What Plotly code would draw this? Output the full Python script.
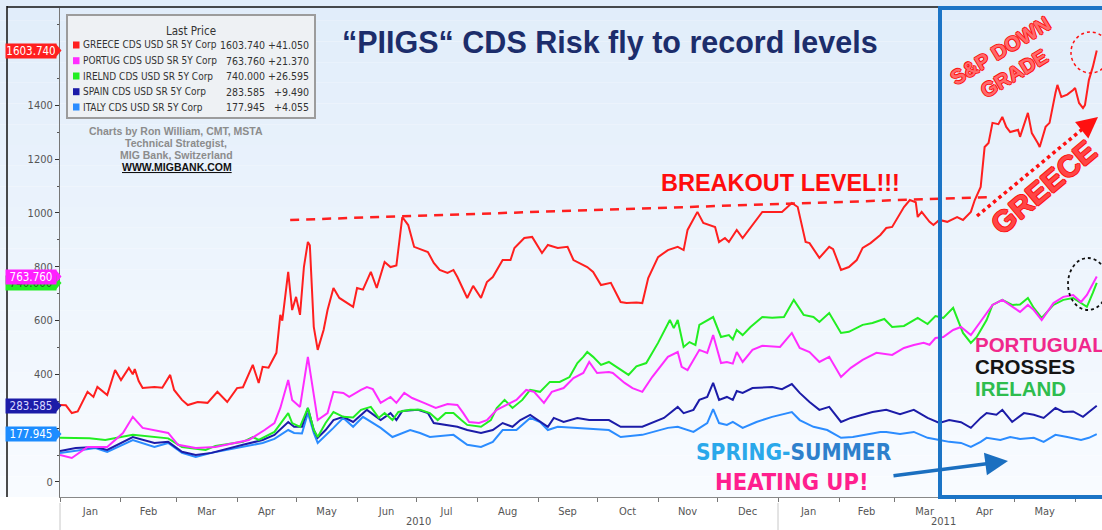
import pandas as pd
import plotly.graph_objects as go

START = "2010-01-01"

# ---- data: days since 2010-01-01 and CDS level (bp) ----
greece_days = [0, 3, 6, 9, 14, 17, 19, 24, 28, 31,
               35, 37, 38, 40, 42, 48, 52, 56, 58, 62,
               65, 70, 75, 80, 85, 90, 93, 96, 98, 101,
               103, 106, 110, 112, 113, 116, 118, 120, 122, 124,
               126, 127, 129, 131, 134, 136, 139, 142, 149, 151,
               154, 158, 161, 165, 168, 171, 174, 177, 180, 187,
               190, 193, 197, 200, 202, 207, 210, 214, 217, 220,
               225, 229, 231, 236, 240, 245, 248, 253, 258, 261,
               268, 271, 275, 280, 285, 288, 293, 296, 299, 304,
               309, 314, 317, 319, 324, 327, 333, 335, 338, 340,
               344, 347, 353, 357, 362, 367, 372, 375, 379, 381,
               386, 391, 393, 397, 401, 405, 408, 412, 417, 420,
               423, 429, 432, 435, 436, 438, 442, 444, 447, 451,
               456, 459, 463, 465, 468, 470, 472, 474, 477, 479,
               481, 483, 487, 488, 492, 494, 497, 498, 501, 503,
               506, 507, 509, 512, 515, 516, 518, 520, 521, 523,
               525, 527]
greece_cds = [286, 285, 256, 262, 335, 316, 353, 323, 416, 379,
              424, 400, 420, 375, 349, 353, 350, 398, 342, 305,
              286, 297, 294, 335, 297, 349, 352, 405, 435, 368,
              428, 425, 480, 621, 600, 781, 639, 688, 621, 800,
              892, 880, 576, 491, 565, 639, 721, 684, 651, 721,
              715, 781, 721, 818, 799, 805, 985, 955, 874, 855,
              814, 788, 777, 788, 762, 684, 729, 684, 743, 762,
              825, 825, 870, 907, 911, 851, 881, 870, 874, 825,
              799, 781, 732, 740, 669, 665, 667, 665, 758, 836,
              862, 874, 862, 937, 1004, 963, 948, 892, 907, 892,
              937, 907, 963, 1004, 1004, 1004, 1037, 1022, 892, 888,
              833, 874, 865, 788, 799, 825, 870, 888, 918, 944,
              948, 1022, 1048, 1040, 985, 1004, 967, 955, 974, 967,
              985, 974, 1004, 1048, 1097, 1245, 1260, 1335, 1330, 1357,
              1320, 1301, 1309, 1283, 1372, 1297, 1260, 1245, 1320, 1335,
              1446, 1476, 1431, 1440, 1457, 1465, 1409, 1390, 1401, 1494,
              1543, 1603.74]

portugal_days = [0, 6, 14, 24, 32, 37, 42, 47, 55, 60,
                 69, 79, 96, 104, 109, 112, 116, 118, 122, 126,
                 129, 131, 136, 139, 144, 147, 153, 156, 159, 163,
                 168, 171, 175, 179, 185, 191, 197, 202, 205, 208,
                 213, 217, 222, 227, 232, 237, 241, 246, 250, 256,
                 261, 266, 269, 273, 279, 281, 287, 291, 296, 301,
                 309, 314, 316, 319, 325, 329, 332, 336, 339, 342,
                 344, 347, 352, 357, 366, 372, 376, 381, 386, 391,
                 397, 402, 408, 415, 423, 429, 434, 439, 442, 445,
                 449, 454, 458, 463, 466, 471, 474, 479, 484, 488,
                 492, 495, 499, 505, 510, 515, 519, 522, 527]
portugal_cds = [100, 89, 130, 130, 182, 242, 201, 193, 182, 138,
                126, 130, 156, 193, 219, 275, 379, 305, 279, 465,
                331, 230, 256, 335, 331, 316, 342, 353, 345, 294,
                316, 294, 331, 312, 294, 275, 290, 286, 256, 223,
                219, 230, 268, 286, 305, 342, 335, 294, 335, 349,
                386, 405, 446, 405, 409, 405, 368, 349, 335, 390,
                465, 483, 428, 416, 491, 480, 546, 442, 446, 440,
                483, 446, 491, 506, 502, 554, 498, 483, 446, 465,
                390, 424, 454, 480, 472, 498, 509, 517, 510, 535,
                539, 565, 576, 546, 576, 628, 658, 677, 651, 632,
                658, 639, 602, 665, 688, 695, 669, 695, 763.76]

ireland_days = [0, 15, 23, 37, 55, 62, 74, 79, 93, 98,
                101, 109, 116, 118, 122, 126, 129, 131, 135, 139,
                144, 149, 153, 158, 162, 165, 169, 172, 178, 183,
                188, 192, 196, 200, 204, 207, 214, 219, 222, 226,
                230, 235, 239, 244, 249, 254, 259, 263, 266, 268,
                271, 275, 279, 283, 289, 293, 298, 304, 308, 310,
                312, 314, 317, 320, 323, 325, 332, 336, 340, 342,
                344, 347, 351, 357, 362, 368, 373, 378, 383, 386,
                391, 397, 401, 408, 413, 419, 423, 429, 436, 441,
                445, 449, 454, 457, 459, 463, 466, 471, 474, 479,
                484, 488, 492, 495, 499, 505, 510, 515, 519, 522,
                525, 527]
ireland_cds = [164, 162, 156, 175, 162, 130, 119, 134, 149, 167,
               156, 186, 256, 219, 205, 275, 193, 167, 219, 260,
               242, 240, 268, 279, 238, 256, 230, 260, 268, 268,
               256, 230, 256, 256, 230, 212, 205, 230, 275, 305,
               275, 305, 342, 335, 372, 372, 390, 442, 465, 483,
               465, 435, 446, 428, 398, 430, 442, 517, 576, 602,
               572, 602, 502, 520, 509, 584, 613, 539, 546, 530,
               565, 546, 576, 613, 610, 613, 677, 621, 613, 595,
               628, 554, 558, 584, 591, 606, 576, 580, 610, 587,
               617, 610, 647, 591, 554, 517, 539, 602, 658, 677,
               658, 660, 684, 647, 610, 658, 677, 684, 665, 651,
               703, 740.0]

spain_days = [0, 8, 18, 24, 37, 48, 55, 62, 69, 77,
              93, 103, 109, 116, 119, 123, 126, 129, 131, 135,
              139, 144, 149, 156, 163, 168, 171, 174, 182, 187,
              190, 197, 202, 207, 214, 220, 225, 230, 234, 239,
              243, 248, 251, 256, 263, 269, 279, 285, 296, 307,
              314, 317, 322, 325, 329, 332, 335, 339, 342, 344,
              347, 352, 362, 367, 372, 376, 381, 386, 391, 397,
              402, 408, 413, 420, 427, 434, 441, 447, 452, 458,
              463, 468, 471, 476, 479, 484, 490, 495, 500, 506,
              510, 515, 520, 523, 527]
spain_cds = [115, 126, 130, 119, 167, 145, 149, 112, 100, 108,
             138, 156, 175, 223, 205, 205, 275, 193, 164, 193,
             230, 242, 223, 268, 230, 256, 230, 264, 268, 256,
             219, 212, 205, 193, 182, 193, 219, 205, 230, 249,
             230, 205, 238, 223, 238, 230, 230, 205, 205, 238,
             279, 256, 268, 305, 316, 368, 305, 316, 305, 338,
             331, 349, 353, 345, 364, 331, 297, 268, 279, 223,
             238, 249, 260, 268, 252, 268, 238, 219, 230, 222,
             201, 238, 256, 250, 268, 223, 256, 250, 238, 275,
             260, 262, 242, 260, 283.585]

italy_days = [0, 8, 18, 24, 37, 48, 55, 62, 69, 77,
              93, 103, 109, 116, 119, 123, 126, 129, 131, 135,
              139, 144, 149, 154, 163, 169, 178, 183, 188, 200,
              207, 214, 220, 225, 232, 239, 244, 248, 253, 261,
              279, 285, 296, 309, 314, 322, 329, 332, 335, 339,
              342, 347, 354, 362, 372, 376, 383, 390, 397, 403,
              417, 420, 427, 434, 441, 447, 452, 458, 463, 468,
              471, 478, 483, 488, 495, 500, 506, 512, 519, 523,
              527]
italy_cds = [108, 115, 126, 112, 156, 130, 145, 108, 93, 108,
             130, 145, 160, 193, 182, 180, 256, 182, 145, 175,
             201, 238, 205, 242, 201, 167, 193, 182, 167, 175,
             138, 130, 149, 193, 193, 238, 223, 193, 205, 201,
             193, 167, 175, 201, 205, 186, 219, 271, 219, 212,
             223, 201, 223, 242, 260, 230, 205, 193, 164, 167,
             186, 186, 178, 186, 164, 156, 149, 145, 130, 149,
             164, 156, 167, 160, 164, 149, 175, 167, 156, 164,
             177.945]

series_names = ["GREECE CDS USD SR 5Y Corp", "PORTUG CDS USD SR 5Y Corp",
                "IRELND CDS USD SR 5Y Corp", "SPAIN CDS USD SR 5Y Corp",
                "ITALY CDS USD SR 5Y Corp"]
last_price = [1603.740, 763.760, 740.000, 283.585, 177.945]
last_label = ["1603.740", "763.760", "740.000", "283.585", "177.945"]
change_label = ["+41.050", "+21.370", "+26.595", "+9.490", "+4.055"]
series_colors = ["#ff1f1f", "#ff2cff", "#22ee22", "#1c1ca8", "#2b8cff"]
year_labels = ["2010", "2011"]
y_ticks = [0, 200, 400, 600, 800, 1000, 1200, 1400, 1600]
y_tick_text = ["0", "", "400", "600", "800", "1000", "1200", "1400", ""]

# breakout level line end points (date, level)
breakout_dates = ["2010-04-28", "2011-04-19"]
breakout_levels = [974, 1059]

# ---- geometry helpers (layout only) ----
W, H = 1102, 530
L, T, B = 60, 8, 33
PW, PH = W - L, H - T - B


def px(x):
    return (x - L) / PW


def py(y):
    return (H - B - y) / PH


def to_dates(days):
    return pd.Timestamp(START) + pd.to_timedelta(days, unit="D")


COND = "DejaVu Sans Condensed, Liberation Sans Narrow, Arial Narrow, sans-serif"
ARIAL = "Liberation Sans, Arial, sans-serif"

fig = go.Figure()

data = [
    (italy_days, italy_cds, 4),
    (spain_days, spain_cds, 3),
    (ireland_days, ireland_cds, 2),
    (portugal_days, portugal_cds, 1),
    (greece_days, greece_cds, 0),
]
for days, vals, idx in data:
    fig.add_trace(go.Scatter(
        x=to_dates(days), y=vals, mode="lines", name=series_names[idx],
        line=dict(color=series_colors[idx], width=2), showlegend=False,
        hoverinfo="x+y"))

shapes = []
annotations = []


def note(x, y, text, size, color="#333", family=ARIAL, xanchor="center",
         yanchor="middle", **kw):
    d = dict(xref="paper", yref="paper", x=px(x), y=py(y), text=text,
             showarrow=False, xanchor=xanchor, yanchor=yanchor,
             font=dict(family=family, size=size, color=color))
    d["font"].update(kw.pop("font_extra", {}))
    d.update(kw)
    annotations.append(d)


# background gradient bands
N = 24
top_rgb = (225, 237, 250)
bot_rgb = (248, 251, 255)
for i in range(N):
    f = i / (N - 1)
    c = tuple(int(round(top_rgb[k] + (bot_rgb[k] - top_rgb[k]) * f)) for k in range(3))
    y0 = i * (H - B) / N
    y1 = (i + 1) * (H - B) / N
    shapes.append(dict(type="rect", xref="paper", yref="paper",
                       x0=px(0), x1=px(W + 2), y0=py(y1), y1=py(y0),
                       fillcolor="rgb(%d,%d,%d)" % c, line=dict(width=0),
                       layer="below"))

# frame lines (left black edge and top)
shapes.append(dict(type="line", xref="paper", yref="paper", x0=px(7), x1=px(7),
                   y0=py(H - B), y1=py(6), line=dict(color="#111", width=1.5)))
shapes.append(dict(type="line", xref="paper", yref="paper", x0=px(7), x1=px(W),
                   y0=py(7), y1=py(7), line=dict(color="#111", width=1.5)))

# year separators under axis
for xx in [L, 778]:
    shapes.append(dict(type="line", xref="paper", yref="paper", x0=px(xx), x1=px(xx),
                       y0=py(503), y1=py(530), line=dict(color="#c8c8c8", width=1)))
note(418, 521, year_labels[0], 11, "#555", COND)
note(943, 521, year_labels[1], 11, "#555", COND)

# legend box
shapes.append(dict(type="rect", xref="paper", yref="paper", x0=px(67), x1=px(315),
                   y0=py(118), y1=py(15), fillcolor="#eef1f4",
                   line=dict(color="#9c9c9c", width=2)))
note(191, 31, "Last Price", 11.5, "#333", COND)
row_y = [45, 60.7, 76, 91.7, 107]
for i in range(5):
    shapes.append(dict(type="rect", xref="paper", yref="paper",
                       x0=px(73), x1=px(79.5), y0=py(row_y[i] + 3.5), y1=py(row_y[i] - 3.5),
                       fillcolor=series_colors[i], line=dict(width=0)))
    note(80.5, row_y[i], series_names[i], 10, "#333", COND, xanchor="left")
    note(267, row_y[i], last_label[i], 10.5, "#333", COND, xanchor="right")
    note(311, row_y[i], change_label[i], 10.5, "#333", COND, xanchor="right")

# credits
credit = ["Charts by Ron William, CMT, MSTA", "Technical Strategist,",
          "MIG Bank, Switzerland"]
for j, t in enumerate(credit):
    note(176, 131 + 12 * j, "<b>%s</b>" % t, 10.5, "#8c8c8c")
note(177, 167, "<b>WWW.MIGBANK.COM</b>", 10.5, "#111",
     font_extra=dict(lineposition="under"))

# title
note(610, 42, "<b>\u201cPIIGS\u201c CDS Risk fly to record levels</b>", 30.5, "#1c2d6b")

# breakout
fig.add_trace(go.Scatter(x=pd.to_datetime(breakout_dates), y=breakout_levels, mode="lines",
                         line=dict(color="#ff1f1f", width=2.5, dash="9px,7px"),
                         showlegend=False, hoverinfo="skip"))
note(780, 183, "<b>BREAKOUT LEVEL!!!</b>", 23.5, "#ff0d0d")

# blue highlight box
shapes.append(dict(type="rect", xref="paper", yref="paper", x0=px(940), x1=px(W + 10),
                   y0=py(497), y1=py(8), line=dict(color="#1b74c6", width=4)))

outline = "1px 0 0 #ff1010, -1px 0 0 #ff1010, 0 1px 0 #ff1010, 0 -1px 0 #ff1010"
note(1007, 62, "<b>S&P DOWN<br>GRADE</b>", 20.5, "#ff6a6a", textangle=-31,
     font_extra=dict(shadow=outline))
note(1043, 187, "<b>GREECE</b>", 30, "#ff4545", textangle=-40,
     font_extra=dict(shadow=outline))

# red dotted arrow
shapes.append(dict(type="line", xref="paper", yref="paper", x0=px(977), y0=py(216),
                   x1=px(1085), y1=py(127), line=dict(color="#ff1010", width=3.5, dash="dot")))
annotations.append(dict(xref="paper", yref="paper", x=px(1098), y=py(117),
                        ax=-16, ay=13, axref="pixel", ayref="pixel",
                        text="", showarrow=True, arrowhead=2, arrowsize=1.4,
                        arrowwidth=3, arrowcolor="#ff1010", standoff=0))

# circles
shapes.append(dict(type="circle", xref="paper", yref="paper", x0=px(1071), x1=px(1110),
                   y0=py(73), y1=py(32), line=dict(color="#ff1010", width=1.5, dash="dot")))
shapes.append(dict(type="circle", xref="paper", yref="paper", x0=px(1068), x1=px(1108),
                   y0=py(310), y1=py(258), line=dict(color="#111", width=1.8, dash="dot")))

# crossing text
for t, c, yy in [("PORTUGUAL", "#f0288c", 344), ("CROSSES", "#151515", 366),
                 ("IRELAND", "#2ebd4e", 388)]:
    note(973, yy, "<b>%s</b>" % t, 20.5, c, xanchor="left", height=20)

# spring summer
note(794, 452, "<b><span style='color:#2aa8ea'>SPRING-</span>"
               "<span style='color:#2e80cc'>SUMMER</span></b>", 22.5, "#2aa8ea", COND)
note(792, 482, "<b>HEATING UP!</b>", 23.5, "#ff1f8e", COND)
annotations.append(dict(xref="paper", yref="paper", x=px(1008), y=py(461),
                        ax=-116, ay=15, axref="pixel", ayref="pixel",
                        text="", showarrow=True, arrowhead=2, arrowsize=1.3,
                        arrowwidth=3.5, arrowcolor="#1b6fc0", standoff=0))

# left value tags
tag_text_col = ["#ffffff", "#ffffff", "#1a6a1a", "#d8d8ff", "#ffffff"]
tag_fill = ["#ff1f1f", "#ff1fff", "#22ee22", "#1c1ca8", "#1c8cff"]
for i in [0, 2, 1, 3, 4]:
    v = last_price[i]
    half = 6.5 * (1762 + 56) / PH
    shapes.append(dict(type="path", xref="paper", yref="y",
                       path="M %f,%f L %f,%f L %f,%f Z" % (px(56), v + half, px(61.5), v,
                                                           px(56), v - half),
                       fillcolor=tag_fill[i], line=dict(width=0)))
    annotations.append(dict(xref="paper", yref="y", x=px(57), y=v, xanchor="right",
                            yanchor="middle",
                            text=last_label[i], showarrow=False, width=48, height=12,
                            borderpad=1, bgcolor=tag_fill[i],
                            font=dict(family=COND, size=11.5, color=tag_text_col[i])))

fig.update_layout(
    width=W, height=H,
    margin=dict(l=L, r=0, t=T, b=B),
    paper_bgcolor="#ffffff",
    plot_bgcolor="rgba(0,0,0,0)",
    shapes=shapes,
    annotations=annotations,
    showlegend=False,
    xaxis=dict(type="date", range=["2010-01-01", "2011-06-14 16:00"],
               tick0="2010-01-01", dtick="M1", tickformat="%b",
               ticklabelmode="period", ticks="outside", ticklen=4,
               tickcolor="#777", showline=True, linecolor="#888", linewidth=1,
               showgrid=False, zeroline=False,
               tickfont=dict(family=COND, size=11, color="#555")),
    yaxis=dict(range=[-56, 1762], tickvals=y_ticks, ticktext=y_tick_text,
               ticks="outside", ticklen=4,
               tickcolor="#333", showline=True, linecolor="#777", linewidth=1,
               showgrid=False, zeroline=False,
               minor=dict(dtick=100, ticks="outside", ticklen=2, tickcolor="#555"),
               tickfont=dict(family=COND, size=11, color="#555")),
)

fig.write_html("out.html", config={"displayModeBar": False},
               post_script="document.body.style.margin='0';")
